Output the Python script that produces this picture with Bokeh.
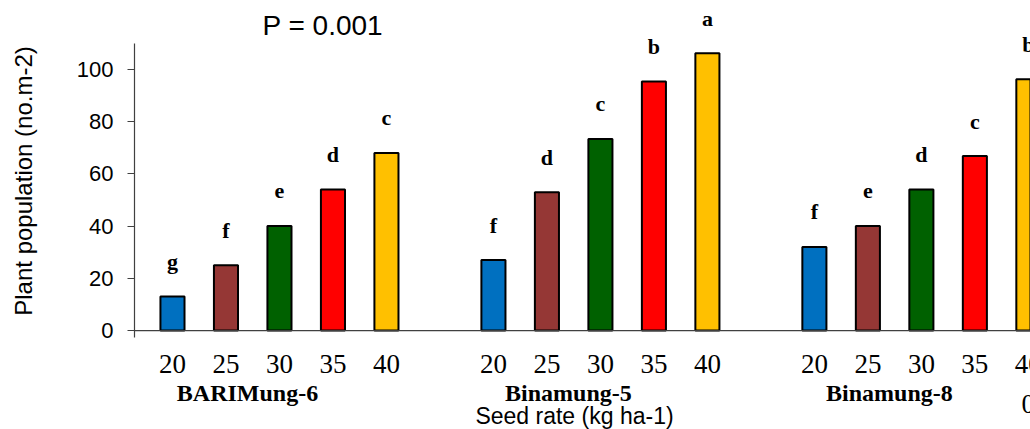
from bokeh.plotting import figure
from bokeh.models import ColumnDataSource, FixedTicker, Range1d, Span
from bokeh.core.properties import value
from bokeh.embed import file_html
from bokeh.resources import INLINE

# ---- data ----
varieties = ["BARIMung-6", "Binamung-5", "Binamung-8"]
seed_rates = ["20", "25", "30", "35", "40"]
bari6 = [13, 25, 40, 54, 68]
bina5 = [27, 53, 73.4, 95.4, 106.2]
bina8 = [32, 40, 54, 66.8, 96.2]
letters_bari6 = ["g", "f", "e", "d", "c"]
letters_bina5 = ["f", "d", "c", "b", "a"]
letters_bina8 = ["f", "e", "d", "c", "b"]
bar_colors = ["#0070C0", "#953735", "#006100", "#FF0000", "#FFC000"]
y_ticks = [0, 20, 40, 60, 80, 100]
title_text = "P = 0.001"
x_title = "Seed rate (kg ha-1)"
y_title = "Plant population (no.m-2)"

series = [bari6, bina5, bina8]
letter_sets = [letters_bari6, letters_bina5, letters_bina8]

xs, tops, cols, labs, rate_lab = [], [], [], [], []
for g, (vals, lets) in enumerate(zip(series, letter_sets)):
    for k, v in enumerate(vals):
        xs.append(g * 6 + k)
        tops.append(v)
        cols.append(bar_colors[k])
        labs.append(lets[k])
        rate_lab.append(seed_rates[k])

src = ColumnDataSource(dict(x=xs, top=tops, color=cols, lab=labs, rate=rate_lab,
                            zero=[0] * len(xs)))

X0, X1 = -0.71, 16.04
Y0, Y1 = -37.9, 121.8

p = figure(width=1030, height=429, output_backend="svg", toolbar_location=None,
           x_range=Range1d(X0, X1), y_range=Range1d(Y0, Y1),
           x_axis_location=None,
           min_border_left=134, min_border_right=0, min_border_top=12,
           min_border_bottom=0)
p.outline_line_color = None
p.grid.grid_line_color = None
p.background_fill_color = "white"

p.vbar(x="x", top="top", width=0.45, fill_color="color", line_color="black",
       line_width=2, source=src)

# x axis line at zero
p.add_layout(Span(location=0, dimension="width", line_color="#404040", line_width=1.2))

serif = value("Liberation Serif")
sans = value("Liberation Sans")

# significance letters above bars
p.text(x="x", y="top", text="lab", source=src, y_offset=-35,
       text_align="center", text_baseline="alphabetic",
       text_font=serif, text_font_style="bold", text_font_size="22px",
       text_color="black")

# seed-rate tick labels
p.text(x="x", y="zero", text="rate", source=src, y_offset=33,
       text_align="center", text_baseline="alphabetic",
       text_font=serif, text_font_size="27px", text_color="black")

# variety names
gsrc = ColumnDataSource(dict(x=[g * 6 + 2 for g in range(3)], y=[0] * 3, t=varieties))
p.text(x="x", y="y", text="t", source=gsrc, x_offset=-32, y_offset=62,
       text_align="center", text_baseline="alphabetic",
       text_font=serif, text_font_style="bold", text_font_size="24px",
       text_color="black")

# partial label at the right edge
p.text(x=[xs[-1]], y=[0], text=["0"], y_offset=73,
       text_align="center", text_baseline="alphabetic",
       text_font=serif, text_font_size="27px", text_color="black")

# x title
p.text(x=[(X0 + X1) / 2], y=[0], text=[x_title], x_offset=-8, y_offset=85,
       text_align="center", text_baseline="alphabetic",
       text_font=sans, text_font_size="23px", text_color="black")

# chart title
p.text(x=[X0], y=[Y1], text=[title_text], x_offset=128, y_offset=13,
       text_align="left", text_baseline="alphabetic",
       text_font=sans, text_font_size="28px", text_color="black")

# y axis
p.yaxis.bounds = (-2.7, 110)
p.yaxis.ticker = FixedTicker(ticks=y_ticks)
p.yaxis.minor_tick_line_color = None
p.yaxis.major_tick_out = 7
p.yaxis.major_tick_in = 0
p.yaxis.axis_line_color = "#404040"
p.yaxis.axis_line_width = 1.2
p.yaxis.major_tick_line_color = "#404040"
p.yaxis.major_label_text_font = "Liberation Sans"
p.yaxis.major_label_text_font_size = "22px"
p.yaxis.major_label_text_color = "black"
p.yaxis.major_label_standoff = 14
# leading no-break spaces move the centred label up to the middle of the axis line
p.yaxis.axis_label = "\u00a0" * 12 + y_title
p.yaxis.axis_label_text_font = "Liberation Sans"
p.yaxis.axis_label_text_font_style = "normal"
p.yaxis.axis_label_text_font_size = "24px"
p.yaxis.axis_label_text_color = "black"
p.yaxis.axis_label_standoff = 37

open("out.html", "w").write(file_html(p, INLINE))
